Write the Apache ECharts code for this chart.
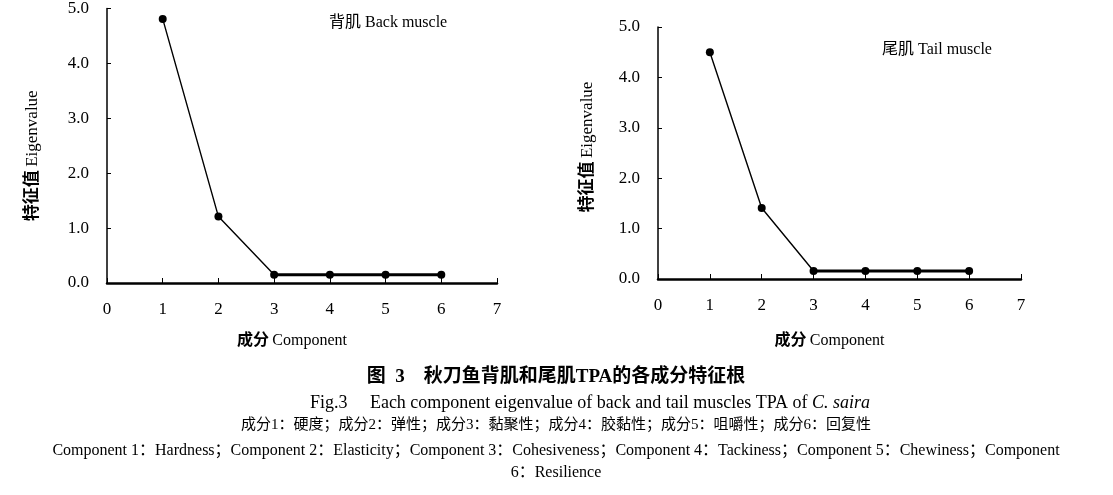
<!DOCTYPE html>
<html><head><meta charset="utf-8">
<script src="https://cdn.jsdelivr.net/npm/echarts@6/dist/echarts.min.js"></script>
<style>html,body{margin:0;padding:0;background:#fff}#c{width:1113px;height:495px}</style>
</head><body><div id="c"></div>
<script>
const components = [1, 2, 3, 4, 5, 6];
const backValues = [4.81, 1.21, 0.15, 0.15, 0.15, 0.15];
const tailValues = [4.50, 1.41, 0.16, 0.16, 0.16, 0.16];
const xTicks = [0, 1, 2, 3, 4, 5, 6, 7];
const yTicks = [0, 1, 2, 3, 4, 5];
const panelTitles = ['背肌 Back muscle', '尾肌 Tail muscle'];
const captionLines = [
  '图  3    秋刀鱼背肌和尾肌TPA的各成分特征根',
  'Fig.3     Each component eigenvalue of back and tail muscles TPA of ',
  '成分1：硬度；成分2：弹性；成分3：黏聚性；成分4：胶黏性；成分5：咀嚼性；成分6：回复性',
  'Component 1：Hardness；Component 2：Elasticity；Component 3：Cohesiveness；Component 4：Tackiness；Component 5：Chewiness；Component',
  '6：Resilience'
];
const speciesName = 'C. saira';

const FONT = '"Liberation Serif", "Noto Sans CJK SC", serif';
const chart = echarts.init(document.getElementById('c'));

const grids = [
  {left: 107, top: 3, width: 390, height: 280},
  {left: 658, top: 27, width: 363, height: 252}
];

function xAxis(i, gap) {
  return {
    gridIndex: i, type: 'value', min: xTicks[0], max: xTicks[xTicks.length - 1], interval: 1,
    axisLine: {onZero: false, lineStyle: {color: '#000', width: 2.5}},
    axisTick: {inside: true, length: 5, lineStyle: {color: '#000', width: 1}},
    axisLabel: {margin: 18, fontFamily: FONT, fontSize: 17, color: '#000'},
    splitLine: {show: false},
    name: '{b|成分} {n|Component}', nameLocation: 'middle', nameGap: gap,
    nameTextStyle: {padding: [0, 20, 0, 0], rich: {
      b: {fontFamily: FONT, fontWeight: 'bold', fontSize: 16, color: '#000'},
      n: {fontFamily: FONT, fontSize: 16, color: '#000'}
    }}
  };
}
function yAxis(i, gap, pad) {
  return {
    gridIndex: i, type: 'value', min: yTicks[0], max: yTicks[yTicks.length - 1], interval: 1,
    axisLine: {show: true, lineStyle: {color: '#000', width: 1.5}},
    axisTick: {show: true, inside: true, length: 4, lineStyle: {color: '#000', width: 1}},
    axisLabel: {margin: 18, fontFamily: FONT, fontSize: 17, color: '#000', formatter: v => v.toFixed(1)},
    splitLine: {show: false},
    name: '{b|特征值} {n|Eigenvalue}', nameLocation: 'middle', nameGap: gap, nameRotate: 90,
    nameTextStyle: {padding: pad, rich: {
      b: {fontFamily: FONT, fontWeight: 'bold', fontSize: 17, color: '#000'},
      n: {fontFamily: FONT, fontSize: 17, color: '#000'}
    }}
  };
}

function seriesFor(i, vals) {
  const pts = components.map((c, k) => [c, vals[k]]);
  return [
    {type: 'line', xAxisIndex: i, yAxisIndex: i, data: pts, symbol: 'circle', symbolSize: 8,
     itemStyle: {color: '#000'}, lineStyle: {color: '#000', width: 1.4}, z: 3, animation: false},
    {type: 'line', xAxisIndex: i, yAxisIndex: i, data: pts.slice(2), symbol: 'none',
     lineStyle: {color: '#000', width: 3}, z: 2, animation: false}
  ];
}

const captionY = [377, 403, 425, 451, 473];
const graphics = [
  {type: 'text', x: 329, y: 23, style: {text: panelTitles[0], font: '16px ' + FONT, fill: '#000', textVerticalAlign: 'middle'}},
  {type: 'text', x: 882, y: 50, style: {text: panelTitles[1], font: '16px ' + FONT, fill: '#000', textVerticalAlign: 'middle'}},
  {type: 'text', x: 556, y: captionY[0], style: {text: captionLines[0], font: 'bold 19px ' + FONT, fill: '#000', textAlign: 'center', textVerticalAlign: 'middle'}},
  {type: 'text', x: 590, y: captionY[1], style: {
    text: '{n|' + captionLines[1] + '}{i|' + speciesName + '}',
    textAlign: 'center', textVerticalAlign: 'middle',
    rich: {
      n: {fontFamily: FONT, fontSize: 18, fill: '#000', color: '#000'},
      i: {fontFamily: FONT, fontSize: 18, fontStyle: 'italic', fill: '#000', color: '#000'}
    }}},
  {type: 'text', x: 556, y: captionY[2], style: {text: captionLines[2], font: '15px ' + FONT, fill: '#000', textAlign: 'center', textVerticalAlign: 'middle'}},
  {type: 'text', x: 556, y: captionY[3], style: {text: captionLines[3], font: '16px ' + FONT, fill: '#000', textAlign: 'center', textVerticalAlign: 'middle'}},
  {type: 'text', x: 556, y: captionY[4], style: {text: captionLines[4], font: '16px ' + FONT, fill: '#000', textAlign: 'center', textVerticalAlign: 'middle'}}
];

chart.setOption({
  animation: false,
  backgroundColor: '#fff',
  grid: grids,
  xAxis: [xAxis(0, 50), xAxis(1, 54)],
  yAxis: [yAxis(0, 66, [0, 20, 0, 0]), yAxis(1, 62, [0, 0, 0, 12])],
  series: [...seriesFor(0, backValues), ...seriesFor(1, tailValues)],
  graphic: graphics
});
</script></body></html>
